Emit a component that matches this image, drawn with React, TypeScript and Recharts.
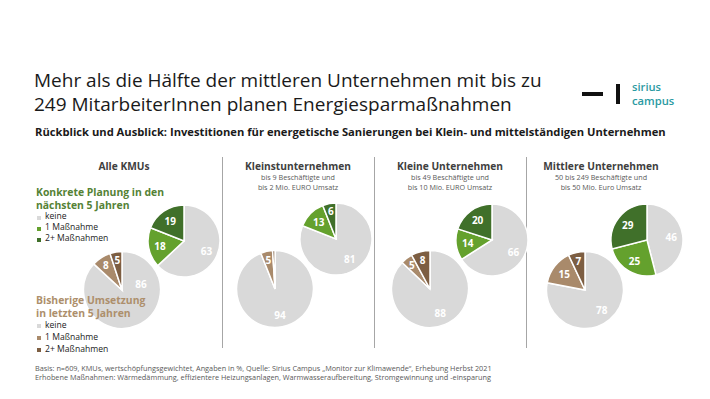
import React from "react";
import { PieChart, Pie, Cell } from "recharts";

// ---------- data ----------
const panelTitles = ["Alle KMUs", "Kleinstunternehmen", "Kleine Unternehmen", "Mittlere Unternehmen"];
const panelSub1 = ["", "bis 9 Beschäftigte und", "bis 49 Beschäftigte und", "50 bis 249 Beschäftigte und"];
const panelSub2 = ["", "bis 2 Mio. EURO Umsatz", "bis 10 Mio. EURO Umsatz", "bis 50 Mio. Euro Umsatz"];
const categories = ["keine", "1 Maßnahme", "2+ Maßnahmen"];

// Konkrete Planung in den nächsten 5 Jahren
const plannedKeine = [63, 81, 66, 46];
const planned1 = [18, 13, 14, 25];
const planned2 = [19, 6, 20, 29];

// Bisherige Umsetzung in letzten 5 Jahren
const doneKeine = [86, 94, 88, 78];
const done1 = [8, 5, 5, 15];
const done2 = [5, 1, 8, 7];

const footer1 = "Basis: n=609, KMUs, wertschöpfungsgewichtet, Angaben in %, Quelle: Sirius Campus „Monitor zur Klimawende“, Erhebung Herbst 2021";
const footer2 = "Erhobene Maßnahmen: Wärmedämmung, effizientere Heizungsanlagen, Warmwasseraufbereitung, Stromgewinnung und -einsparung";

// ---------- styles ----------
const FONT = "'Open Sans', 'Noto Sans', sans-serif";
const GRAY = "#d9d9d9";
const greenColors = [GRAY, "#64a12d", "#40702a"];
const brownColors = [GRAY, "#a98a6b", "#7d5e42"];

const greenPos = [
  { cx: 179, cy: 236 },
  { cx: 331, cy: 234 },
  { cx: 487, cy: 235 },
  { cx: 642, cy: 235 },
];
const brownPos = [
  { cx: 117, cy: 285 },
  { cx: 270, cy: 284 },
  { cx: 425, cy: 284 },
  { cx: 580, cy: 285 },
];
const panelCenters = [124, 298, 450, 601];
const separators = [222.5, 374.5, 526.5];

const RAD = Math.PI / 180;

// label placement tweak for the first "keine" slice of the first brown pie (moved so the legend does not hide it)
const makeLabel = (moveFirst: boolean) => (props: any) => {
  const { cx, cy, midAngle, outerRadius, value, percent, index } = props;
  if (value < 2) return null;
  let x: number;
  let y: number;
  if (moveFirst && index === 0) {
    const r = outerRadius * 0.52;
    const a = 72 * RAD; // clockwise from 12 o'clock
    x = cx + r * Math.sin(a);
    y = cy - r * Math.cos(a);
  } else {
    const f = percent < 0.1 ? 0.78 : 0.68;
    const r = outerRadius * f;
    x = cx + r * Math.cos(-midAngle * RAD);
    y = cy + r * Math.sin(-midAngle * RAD);
  }
  return (
    <text
      x={x}
      y={y}
      fill="#ffffff"
      textAnchor="middle"
      dominantBaseline="central"
      fontFamily={FONT}
      fontWeight={700}
      fontSize={10}
    >
      {value}
    </text>
  );
};

const T = (props: {
  x: number;
  y: number;
  size: number;
  children: React.ReactNode;
  color?: string;
  bold?: boolean;
  center?: boolean;
  weight?: number;
  ls?: number;
}) => {
  const lh = props.size * 1.05;
  const style: React.CSSProperties = {
    position: "absolute",
    top: props.y - lh / 2,
    left: props.center ? props.x - 200 : props.x,
    width: props.center ? 400 : undefined,
    textAlign: props.center ? "center" : "left",
    fontSize: props.size,
    lineHeight: `${lh}px`,
    fontFamily: FONT,
    fontWeight: props.weight ?? (props.bold ? 700 : 400),
    color: props.color ?? "#222",
    whiteSpace: "nowrap",
    letterSpacing: props.ls ?? 0,
  };
  return <div style={style}>{props.children}</div>;
};

const Marker = ({ x, y, color }: { x: number; y: number; color: string }) => (
  <div style={{ position: "absolute", left: x, top: y - 2, width: 4, height: 4, background: color }} />
);

export default function App() {
  const greenData = plannedKeine.map((k, i) =>
    [k, planned1[i], planned2[i]].map((v, j) => ({ name: categories[j], value: v }))
  );
  const brownData = doneKeine.map((k, i) =>
    [k, done1[i], done2[i]].map((v, j) => ({ name: categories[j], value: v }))
  );

  return (
    <div style={{ position: "absolute", left: 0, top: 0, width: 710, height: 399, background: "#fff", overflow: "hidden" }}>
      {/* title */}
      <T x={34} y={80.5} size={19} color="#1a1a1a">Mehr als die Hälfte der mittleren Unternehmen mit bis zu</T>
      <T x={34} y={104.5} size={19} color="#1a1a1a">249 MitarbeiterInnen planen Energiesparmaßnahmen</T>
      <T x={35} y={132} size={11.2} bold color="#1a1a1a">
        Rückblick und Ausblick: Investitionen für energetische Sanierungen bei Klein- und mittelständigen Unternehmen
      </T>

      {/* logo */}
      <div style={{ position: "absolute", left: 582, top: 92, width: 21, height: 3.5, background: "#111" }} />
      <div style={{ position: "absolute", left: 616, top: 84, width: 3.5, height: 20, background: "#111" }} />
      <T x={632} y={87} size={11.2} weight={600} color="#2a9aa2">sirius</T>
      <T x={632} y={100.5} size={11.2} weight={600} color="#2a9aa2">campus</T>

      {/* separators */}
      {separators.map((x, i) => (
        <div key={i} style={{ position: "absolute", left: x - 0.75, top: 157, width: 1.5, height: 191, background: "#a6a6a6" }} />
      ))}

      {/* panel titles */}
      {panelTitles.map((t, i) => (
        <React.Fragment key={i}>
          <T x={panelCenters[i]} y={166} size={10.2} weight={700} center color="#404040">{t}</T>
          {panelSub1[i] && <T x={panelCenters[i]} y={178} size={7.2} center color="#595959">{panelSub1[i]}</T>}
          {panelSub2[i] && <T x={panelCenters[i]} y={187.5} size={7.2} center color="#595959">{panelSub2[i]}</T>}
        </React.Fragment>
      ))}

      {/* pies */}
      <div style={{ position: "absolute", left: 0, top: 0 }}>
        <PieChart width={710} height={399}>
          {greenData.map((d, i) => (
            <Pie
              key={"g" + i}
              data={d}
              dataKey="value"
              cx={greenPos[i].cx}
              cy={greenPos[i].cy}
              outerRadius={36}
              startAngle={90}
              endAngle={-270}
              stroke="#ffffff"
              strokeWidth={1.5}
              label={makeLabel(false)}
              labelLine={false}
              isAnimationActive={false}
            >
              {d.map((_, j) => (
                <Cell key={j} fill={greenColors[j]} />
              ))}
            </Pie>
          ))}
          {brownData.map((d, i) => (
            <Pie
              key={"b" + i}
              data={d}
              dataKey="value"
              cx={brownPos[i].cx}
              cy={brownPos[i].cy}
              outerRadius={38.5}
              startAngle={90}
              endAngle={-270}
              stroke="#ffffff"
              strokeWidth={1.5}
              label={makeLabel(i === 0)}
              labelLine={false}
              isAnimationActive={false}
            >
              {d.map((_, j) => (
                <Cell key={j} fill={brownColors[j]} />
              ))}
            </Pie>
          ))}
        </PieChart>
      </div>

      {/* legend planned */}
      <T x={36} y={192} size={10.4} bold color="#548235">Konkrete Planung in den</T>
      <T x={36} y={205} size={10.4} bold color="#548235">nächsten 5 Jahren</T>
      {categories.map((c, j) => (
        <React.Fragment key={"lg" + j}>
          <Marker x={37} y={217.5 + j * 11} color={greenColors[j]} />
          <T x={45} y={217 + j * 11} size={8.6} color="#222">{c}</T>
        </React.Fragment>
      ))}

      {/* legend done */}
      <T x={36} y={300} size={10.4} bold color="#ad8f6c">Bisherige Umsetzung</T>
      <T x={36} y={313} size={10.4} bold color="#ad8f6c">in letzten 5 Jahren</T>
      {categories.map((c, j) => (
        <React.Fragment key={"lb" + j}>
          <Marker x={37} y={326 + j * 12} color={brownColors[j]} />
          <T x={45} y={325.5 + j * 12} size={8.6} color="#222">{c}</T>
        </React.Fragment>
      ))}

      {/* footer */}
      <T x={35} y={369} size={7.3} color="#595959">{footer1}</T>
      <T x={35} y={378} size={7.3} color="#595959">{footer2}</T>
    </div>
  );
}
